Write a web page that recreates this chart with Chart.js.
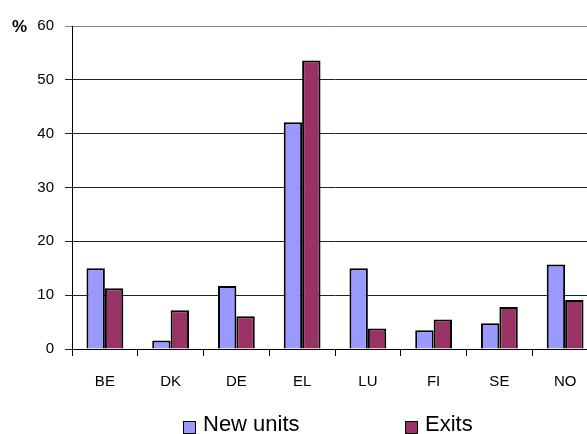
<!DOCTYPE html>
<html>
<head>
<meta charset="utf-8">
<script src="https://cdn.jsdelivr.net/npm/chart.js@4/dist/chart.umd.min.js"></script>
<style>
    html, body { margin: 0; padding: 0; overflow: hidden; background: #fff; }
    #wrap { position: relative; width: 598px; height: 434px; }
    #legend { position: absolute; left: 0; top: 408px; font-family: "Liberation Sans", Arial, sans-serif; font-size: 22px; color: #000; }
    #legend .item { position: absolute; white-space: nowrap; line-height: 26px; }
    #legend .box { position: absolute; top: 13px; width: 11px; height: 11px; border: 1px solid #000; }
    #legend .label { position: absolute; top: 3px; }
</style>
</head>
<body>
<div id="wrap">
    <canvas id="unitsChart" width="598" height="434"></canvas>
    <div id="legend"></div>
</div>
<script>
// Share of new units and exits by country (%)
const categories = ['BE', 'DK', 'DE', 'EL', 'LU', 'FI', 'SE', 'NO'];
const newUnits = [15.0, 1.6, 11.7, 42.1, 15.0, 3.5, 4.8, 15.7];
const exits = [11.3, 7.2, 6.1, 53.6, 3.8, 5.5, 7.8, 9.1];
const yTicks = [0, 10, 20, 30, 40, 50, 60];

const FONT = '"Liberation Sans", Arial, sans-serif';

// "%" unit label next to the top of the value axis
const unitLabel = {
    id: 'unitLabel',
    afterDraw(chart) {
        const ctx = chart.ctx;
        const y = chart.scales.y.getPixelForValue(yTicks[yTicks.length - 1]);
        ctx.save();
        ctx.font = 'bold 17px ' + FONT;
        ctx.fillStyle = '#000';
        ctx.textBaseline = 'middle';
        ctx.fillText('%', 12, y + 1);
        ctx.restore();
    }
};

// HTML legend built from the datasets
const htmlLegend = {
    id: 'htmlLegend',
    afterUpdate(chart) {
        const legendDiv = document.getElementById('legend');
        const positions = [[183, 203], [405, 425]];
        legendDiv.innerHTML = chart.data.datasets.map((ds, i) => `
            <div class="item" style="left:0">
                <span class="box" style="left:${positions[i][0]}px;background:${ds.backgroundColor}"></span>
                <span class="label" style="left:${positions[i][1]}px">${ds.label}</span>
            </div>
        `).join('');
    }
};

const ctx = document.getElementById('unitsChart').getContext('2d');

const unitsChart = new Chart(ctx, {
    type: 'bar',
    data: {
        labels: categories,
        datasets: [{
            label: 'New units',
            data: newUnits,
            backgroundColor: '#9999FF',
            borderColor: '#000',
            borderWidth: 2,
            borderSkipped: 'bottom'
        }, {
            label: 'Exits',
            data: exits,
            backgroundColor: '#993366',
            borderColor: '#000',
            borderWidth: 2,
            borderSkipped: 'bottom'
        }]
    },
    options: {
        responsive: false,
        animation: false,
        categoryPercentage: 0.56,
        barPercentage: 1.0,
        layout: {
            padding: { top: 26, left: 0, right: 0, bottom: 0 }
        },
        plugins: {
            legend: { display: false },
            tooltip: { enabled: false }
        },
        scales: {
            x: {
                offset: true,
                grid: {
                    display: true,
                    drawOnChartArea: false,
                    drawTicks: true,
                    tickLength: 7,
                    color: '#000',
                    offset: true
                },
                border: { display: true, color: '#000', width: 1 },
                ticks: {
                    color: '#000',
                    padding: 17,
                    font: { family: FONT, size: 15 }
                },
                afterFit(scale) {
                    scale.height = 85;
                }
            },
            y: {
                min: 0,
                max: 60,
                afterBuildTicks(scale) {
                    scale.ticks = yTicks.map(v => ({ value: v }));
                },
                grid: {
                    color: (c) => c.tick && c.tick.value === 60 ? '#888' : '#222',
                    lineWidth: 1,
                    drawTicks: true,
                    tickLength: 7
                },
                border: { display: true, color: '#000', width: 1 },
                ticks: {
                    color: '#000',
                    padding: 11,
                    font: { family: FONT, size: 15 }
                },
                afterFit(scale) {
                    scale.width = 72;
                }
            }
        }
    },
    plugins: [unitLabel, htmlLegend]
});
</script>
</body>
</html>
